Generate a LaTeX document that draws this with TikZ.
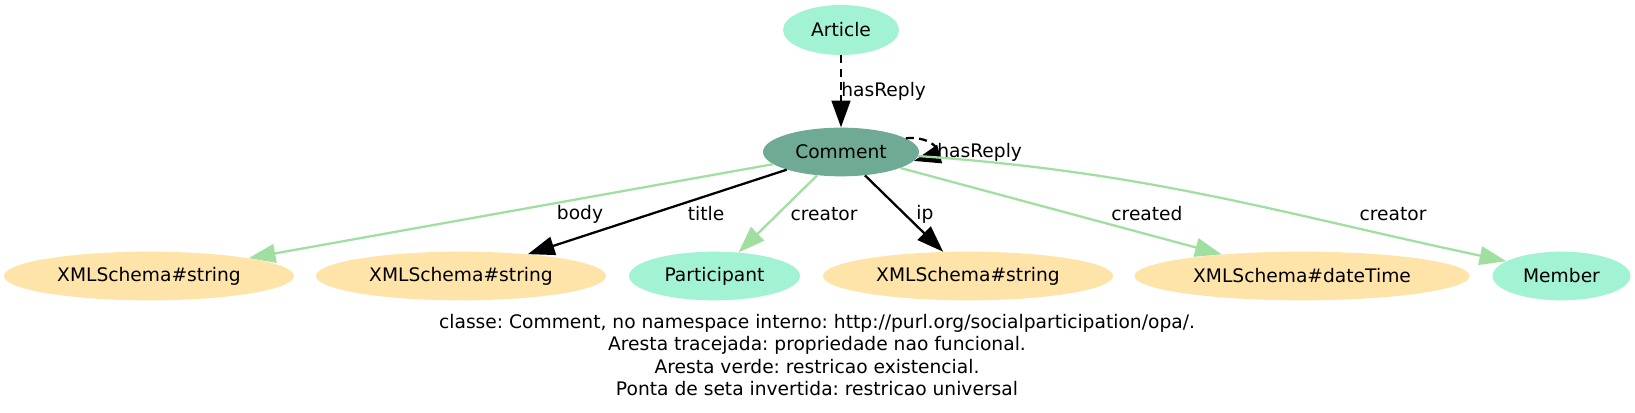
\documentclass[tikz,border=0pt]{standalone}
\usepackage{fontspec}
\setmainfont{DejaVu Sans}
\usetikzlibrary{arrows.meta,shapes.geometric}
\definecolor{clsfill}{HTML}{A2F3D4}
\definecolor{mainfill}{HTML}{6FAB94}
\definecolor{litfill}{HTML}{FFE4A9}
\definecolor{exgreen}{HTML}{A1DFA0}
\begin{document}
\frenchspacing
\begin{tikzpicture}[x=0.75pt,y=0.75pt,
  every node/.style={font=\fontsize{14}{17}\selectfont},
  nd/.style={ellipse, draw=none, inner sep=0pt, minimum height=36.5pt, minimum width=#1*0.75pt},
  clsnode/.style={nd=#1, fill=clsfill},
  litnode/.style={nd=#1, fill=litfill},
  mainnode/.style={nd=#1, fill=mainfill},
  arr/.style={line width=1.7pt, -{Triangle[length=20pt,width=14pt]}},
  blackedge/.style={arr, draw=black},
  greenedge/.style={arr, draw=exgreen},
  elabel/.style={inner sep=0pt}
]
\useasboundingbox[fill=white] (0,0) rectangle (1635,413);

\node[clsnode=116, minimum height=37.5pt] (art) at (841,383) {Article};
\node[mainnode=156] (com) at (841,261) {Comment};
\node[litnode=290] (xs1) at (149,137) {XMLSchema\#string};
\node[litnode=290] (xs2) at (461,137) {XMLSchema\#string};
\node[clsnode=171] (par) at (714.5,137) {Participant};
\node[litnode=290] (xs3) at (968,137) {XMLSchema\#string};
\node[litnode=335] (dt) at (1302,137) {XMLSchema\#dateTime};
\node[clsnode=138] (mem) at (1561.5,137) {Member};

\draw[blackedge, dash pattern=on 6pt off 4pt] (art) -- (com);
\node[elabel, anchor=west] (l0) at (841,322) {hasReply};

\draw[blackedge, dash pattern=on 6pt off 4pt] (com.12) to[out=5,in=15,looseness=3] (com.-7);
\node[elabel, anchor=west] (l1) at (937,261) {hasReply};

\draw[greenedge] (com) -- (xs1);
\draw[blackedge] (com) -- (xs2);
\draw[greenedge] (com) -- (par);
\draw[blackedge] (com) -- (xs3);
\draw[greenedge] (com) -- (dt);
\draw[greenedge] (com.-3) to[out=-4,in=168] (mem.165);

\node[elabel] (lb) at (580,199) {body};
\node[elabel] (lt) at (706,199) {title};
\node[elabel] (lc1) at (824,199) {creator};
\node[elabel] (li) at (925,199) {ip};
\node[elabel] (lcr) at (1147,199) {created};
\node[elabel] (lc2) at (1393,199) {creator};

\node[align=center, inner sep=0pt, font=\fontsize{14}{16.8}\selectfont] (cap) at (817,58) {classe: Comment, no namespace interno: http://purl.org/socialparticipation/opa/.\\Aresta tracejada: propriedade nao funcional.\\Aresta verde: restricao existencial.\\Ponta de seta invertida: restricao universal};
\end{tikzpicture}
\end{document}
